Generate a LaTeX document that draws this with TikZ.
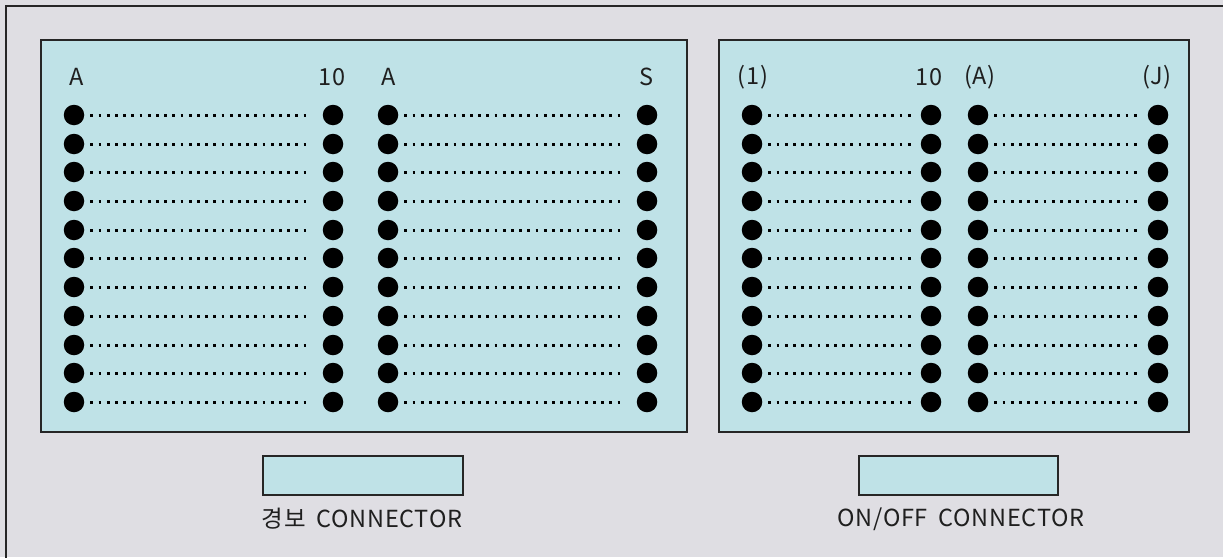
\documentclass[tikz,border=0pt]{standalone}
\usepackage{fontspec}
\setmainfont[LetterSpace=3]{Noto Sans CJK KR}
\definecolor{bgc}{HTML}{DFDEE3}
\definecolor{panelc}{HTML}{BFE2E7}
\begin{document}
\begin{tikzpicture}[x=1pt,y=-1pt,
  dotpin/.style={circle,fill=black,inner sep=0pt,minimum size=20.5pt},
  wire/.style={line width=3pt,dash pattern=on 2.8pt off 5.4pt},
  panel/.style={draw=black!85,line width=1.8pt,fill=panelc},
  lbl/.style={font=\fontsize{23.5}{26}\selectfont,inner sep=0pt,text=black!88}]
\useasboundingbox (0,0) rectangle (1223,557);
\fill[bgc] (0,0) rectangle (1223,557);
\begin{scope}
\clip (0,0) rectangle (1223,557);
\draw[black!85,line width=2pt] (6,6) rectangle (1240,580);
\end{scope}
% panels
\draw[panel] (41,40) rectangle (687,432);
\draw[panel] (719,40) rectangle (1189,432);
% header labels
\node[lbl] (hA1) at (77,77) {A};
\node[lbl] (h10a) at (332,77) {10};
\node[lbl] (hA2) at (389,77) {A};
\node[lbl] (hS) at (646,77) {S};
\node[lbl] (h1) at (753,77) {(1)};
\node[lbl] (h10b) at (929,77) {10};
\node[lbl] (hA3) at (980,77) {(A)};
\node[lbl] (hJ) at (1157,77) {(J)};
% pins and wires
\foreach \i in {0,...,10}{
  \pgfmathsetmacro{\yy}{round(115+28.7*\i)}
  \node[dotpin] (a\i) at (74,\yy) {};
  \node[dotpin] (b\i) at (333,\yy) {};
  \node[dotpin] (c\i) at (388,\yy) {};
  \node[dotpin] (d\i) at (647,\yy) {};
  \node[dotpin] (e\i) at (752,\yy) {};
  \node[dotpin] (f\i) at (931,\yy) {};
  \node[dotpin] (g\i) at (978,\yy) {};
  \node[dotpin] (h\i) at (1158,\yy) {};
  \draw[wire,shorten <=6pt,shorten >=15pt] (a\i.east) -- (b\i.west);
  \draw[wire,shorten <=6pt,shorten >=15pt] (c\i.east) -- (d\i.west);
  \draw[wire,shorten <=6pt,shorten >=9pt] (e\i.east) -- (f\i.west);
  \draw[wire,shorten <=6pt,shorten >=10pt] (g\i.east) -- (h\i.west);
}
% connectors
\draw[panel,line width=1.6pt] (263,456) rectangle (463,495);
\draw[panel,line width=1.6pt] (859,456) rectangle (1058,495);
\node[lbl] (alarm) at (362,519) {경보\hspace{5pt} CONNECTOR};
\node[lbl] (onoff) at (961,519) {ON/OFF\hspace{5pt} CONNECTOR};
\end{tikzpicture}
\end{document}
